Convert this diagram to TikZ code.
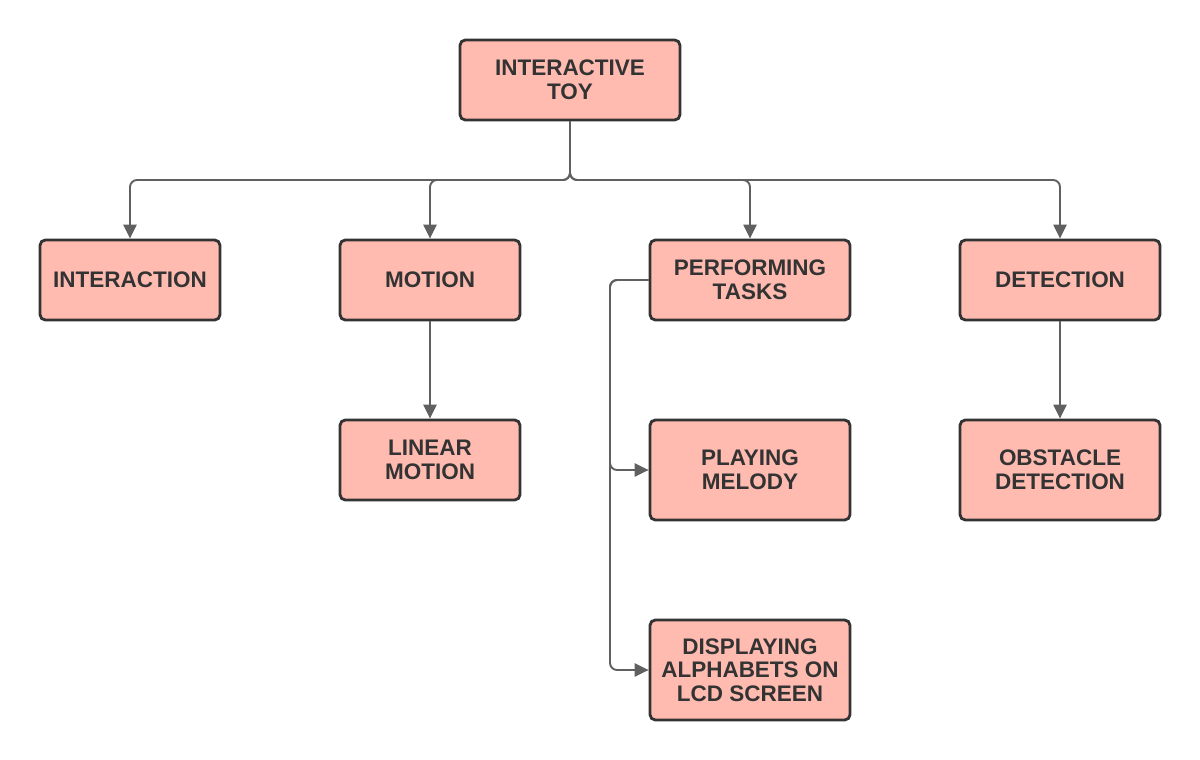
\documentclass[tikz,border=0pt]{standalone}
\usepackage{fontspec}
\setmainfont{Liberation Sans}
\usetikzlibrary{arrows.meta}
\definecolor{boxfill}{HTML}{FFBBB0}
\definecolor{boxline}{HTML}{333333}
\definecolor{wire}{HTML}{606060}
\tikzset{
  box/.style={draw=boxline, fill=boxfill, line width=1.6pt, rounded corners=3pt,
    align=center, font=\bfseries\fontsize{12.8}{13.5}\selectfont, text=boxline, inner sep=0pt},
  link/.style={draw=wire, line width=1.1pt, rounded corners=4pt,
    -{Triangle[length=8pt,width=7.5pt]}}
}
\begin{document}
\begin{tikzpicture}[x=0.02cm,y=-0.02cm]
\useasboundingbox (0,0) rectangle (1200,760);
\node[box, minimum width=4.4cm, minimum height=1.6cm] (toy) at (570,80) {INTERACTIVE\\TOY};

\node[box, minimum width=3.6cm, minimum height=1.6cm] (interaction) at (130,280) {INTERACTION};
\node[box, minimum width=3.6cm, minimum height=1.6cm] (motion) at (430,280) {MOTION};
\node[box, minimum width=4cm, minimum height=1.6cm] (tasks) at (750,280) {PERFORMING\\TASKS};
\node[box, minimum width=4cm, minimum height=1.6cm] (detection) at (1060,280) {DETECTION};

\node[box, minimum width=3.6cm, minimum height=1.6cm] (linear) at (430,460) {LINEAR\\MOTION};
\node[box, minimum width=4cm, minimum height=2cm] (melody) at (750,470) {PLAYING\\MELODY};
\node[box, minimum width=4cm, minimum height=2cm] (lcd) at (750,670) {DISPLAYING\\ALPHABETS ON\\LCD SCREEN};
\node[box, minimum width=4cm, minimum height=2cm] (obstacle) at (1060,470) {OBSTACLE\\DETECTION};

\coordinate (bus) at (570,180);
\coordinate (branch) at (610,280);

% top level
\foreach \child in {interaction,motion,tasks,detection}
  \draw[link] (toy.south) -- (bus) -| (\child.north);

% second level
\draw[link] (motion) -- (linear);
\draw[link] (detection) -- (obstacle);
\draw[link] (tasks.west) -- (branch) |- (melody.west);
\draw[link] (tasks.west) -- (branch) |- (lcd.west);
\end{tikzpicture}
\end{document}
